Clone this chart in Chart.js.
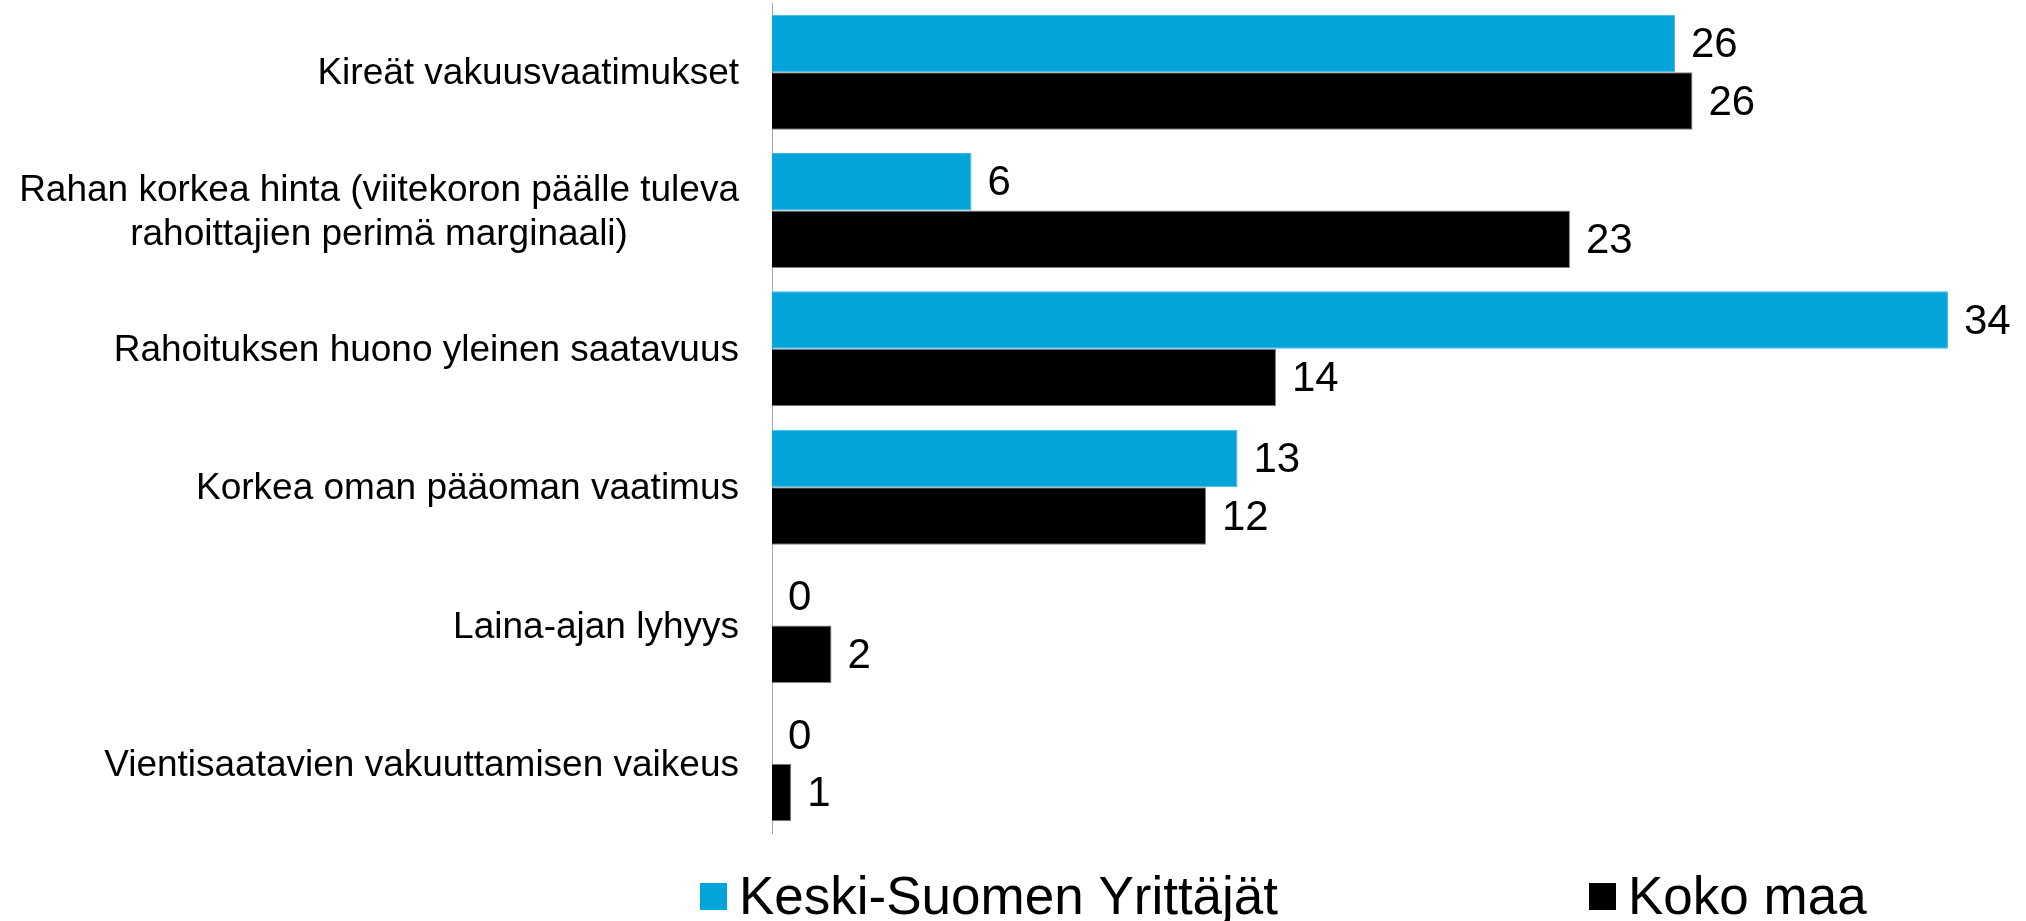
<!DOCTYPE html>
<html><head><meta charset="utf-8">
<script src="https://cdn.jsdelivr.net/npm/chart.js@4"></script>
<style>html,body{margin:0;padding:0;background:#fff;overflow:hidden}#wrap{width:2026px;height:921px;position:relative}canvas{display:block}</style>
</head><body><div id="wrap"><canvas id="c" width="2026" height="921" style="width:2026px;height:921px"></canvas></div>
<script>
const categories = [
  ['Kireät vakuusvaatimukset'],
  ['Rahan korkea hinta (viitekoron päälle tuleva', 'rahoittajien perimä marginaali)'],
  ['Rahoituksen huono yleinen saatavuus'],
  ['Korkea oman pääoman vaatimus'],
  ['Laina-ajan lyhyys'],
  ['Vientisaatavien vakuuttamisen vaikeus']
];
const seriesNames = ['Keski-Suomen Yrittäjät', 'Koko maa'];
const keskiSuomiValues = [25.8, 5.7, 33.6, 13.3, 0, 0];
const kokoMaaValues = [26.3, 22.8, 14.4, 12.4, 1.7, 0.55];
const keskiSuomiLabels = ['26', '6', '34', '13', '0', '0'];
const kokoMaaLabels = ['26', '23', '14', '12', '2', '1'];
const seriesColors = ['#02A4DA', '#000000'];
const seriesBorders = ['#3DB6E2', '#7F7F7F'];

const FONT = "'Liberation Sans', Arial, sans-serif";
const AXIS_X = 772;

const valueLabels = [keskiSuomiLabels, kokoMaaLabels];

const categoryLabelPlugin = {
  id: 'categoryLabels',
  afterDraw(chart) {
    const ctx = chart.ctx;
    const y = chart.scales.y;
    ctx.save();
    ctx.fillStyle = '#000';
    ctx.font = '37px ' + FONT;
    ctx.textBaseline = 'middle';
    const right = 739, lh = 44;
    categories.forEach((lines, i) => {
      const cy = y.getPixelForValue(i) + 2;
      const y0 = cy - (lines.length - 1) * lh / 2;
      if (lines.length === 1) {
        ctx.textAlign = 'right';
        ctx.fillText(lines[0], right, cy);
      } else {
        const w = Math.max(...lines.map(l => ctx.measureText(l).width));
        ctx.textAlign = 'center';
        lines.forEach((l, k) => ctx.fillText(l, right - w / 2, y0 + k * lh));
      }
    });
    ctx.restore();
  }
};

const valueLabelPlugin = {
  id: 'valueLabels',
  afterDatasetsDraw(chart) {
    const ctx = chart.ctx;
    ctx.save();
    ctx.fillStyle = '#000';
    ctx.font = '42px ' + FONT;
    ctx.textAlign = 'left';
    ctx.textBaseline = 'middle';
    chart.data.datasets.forEach((ds, d) => {
      const meta = chart.getDatasetMeta(d);
      meta.data.forEach((el, i) => {
        ctx.fillText(valueLabels[d][i], el.x + 16, el.y + 2);
      });
    });
    ctx.restore();
  }
};

const legendPlugin = {
  id: 'customLegend',
  afterDraw(chart) {
    const ctx = chart.ctx;
    ctx.save();
    ctx.font = '53px ' + FONT;
    ctx.textBaseline = 'alphabetic';
    ctx.textAlign = 'left';
    const items = [{x: 700}, {x: 1589}];
    items.forEach((it, d) => {
      ctx.fillStyle = seriesColors[d];
      ctx.fillRect(it.x, 883, 27, 27);
      ctx.fillStyle = '#000';
      ctx.fillText(seriesNames[d], it.x + 39, 914);
    });
    ctx.restore();
  }
};

new Chart(document.getElementById('c'), {
  type: 'bar',
  data: {
    labels: categories,
    datasets: [
      { label: seriesNames[0], data: keskiSuomiValues, backgroundColor: seriesColors[0], borderColor: seriesBorders[0], borderWidth: 1 },
      { label: seriesNames[1], data: kokoMaaValues, backgroundColor: seriesColors[1], borderColor: seriesBorders[1], borderWidth: 1 }
    ]
  },
  options: {
    indexAxis: 'y',
    responsive: false,
    maintainAspectRatio: false,
    animation: false,
    devicePixelRatio: 1,
    categoryPercentage: 0.8315,
    barPercentage: 1,
    layout: { padding: { top: 3, bottom: 88, left: 0, right: 0 } },
    plugins: { legend: { display: false }, tooltip: { enabled: false } },
    scales: {
      x: { display: false, min: 0, max: 35.83 },
      y: {
        grid: { display: false, drawTicks: false },
        ticks: { display: false },
        border: { display: true, color: '#A6A6A6', width: 1 },
        afterFit(s) { s.width = AXIS_X; }
      }
    }
  },
  plugins: [categoryLabelPlugin, valueLabelPlugin, legendPlugin]
});
</script>
</body></html>
